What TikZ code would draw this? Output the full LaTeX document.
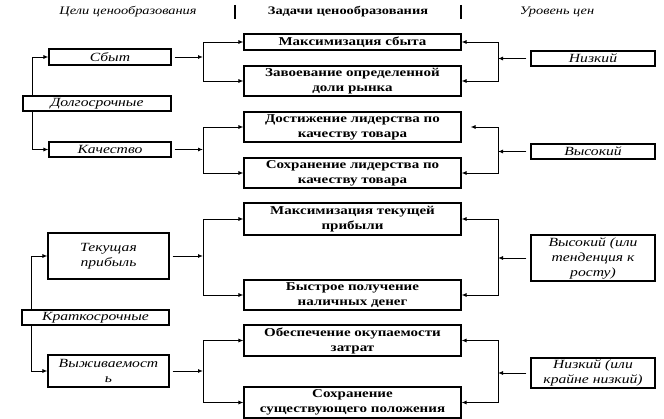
\documentclass[tikz,border=0pt]{standalone}
\usepackage{fontspec}
\setmainfont{Liberation Serif}[FakeStretch=1.25]
\usetikzlibrary{arrows.meta}
\tikzset{
  box/.style={draw, line width=1.1pt, inner sep=1pt, align=center,
    font=\fontsize{12}{15}\selectfont},
  bbox/.style={box, font=\fontsize{12}{15}\selectfont\bfseries},
  ibox/.style={box, font=\fontsize{12.5}{15}\selectfont\itshape},
  arr/.style={line width=0.9pt, -{Latex[length=5pt,width=4pt]}},
  hdr/.style={font=\fontsize{11.5}{14}\selectfont},
}
\begin{document}
\begin{tikzpicture}[x=1pt,y=-1pt]
\useasboundingbox (0,0) rectangle (664,419);
% headers
\node[hdr, font=\fontsize{11.5}{14}\selectfont\itshape] (h1) at (128,12) {Цели ценообразования};
\node[hdr, font=\fontsize{11.5}{14}\selectfont\bfseries] (h2) at (348,12) {Задачи ценообразования};
\node[hdr, font=\fontsize{11.5}{14}\selectfont\itshape] (h3) at (557,12) {Уровень цен};
\draw[line width=1.2pt] (235,5) -- (235,19);
\draw[line width=1.2pt] (461,5) -- (461,19);
% junction x positions
\coordinate (jl) at (203,0);
\coordinate (jr) at (498,0);
% left boxes
\node[ibox, minimum width=122, minimum height=16] (sbyt) at (110,57) {Сбыт};
\node[ibox, minimum width=148, minimum height=15] (dolg) at (97,103.5) {Долгосрочные};
\node[ibox, minimum width=122, minimum height=15] (kach) at (110,149.5) {Качество};
\node[ibox, minimum width=121, minimum height=46] (tek) at (108.5,256) {Текущая\\прибыль};
\node[ibox, minimum width=147, minimum height=15] (krat) at (95.5,317.5) {Краткосрочные};
\node[ibox, minimum width=121, minimum height=32] (vyzh) at (108.5,371) {Выживаемост\\ь};
% middle boxes
\node[bbox, minimum width=217, minimum height=16] (m1) at (352.5,42) {Максимизация сбыта};
\node[bbox, minimum width=217, minimum height=30] (m2) at (352.5,81) {Завоевание определенной\\доли рынка};
\node[bbox, minimum width=217, minimum height=30] (m3) at (352.5,127) {Достижение лидерства по\\качеству товара};
\node[bbox, minimum width=217, minimum height=30] (m4) at (352.5,173) {Сохранение лидерства по\\качеству товара};
\node[bbox, minimum width=217, minimum height=32] (m5) at (352.5,219) {Максимизация текущей\\прибыли};
\node[bbox, minimum width=217, minimum height=30] (m6) at (352.5,295) {Быстрое получение\\наличных денег};
\node[bbox, minimum width=217, minimum height=31] (m7) at (352.5,340.5) {Обеспечение окупаемости\\затрат};
\node[bbox, minimum width=217, minimum height=31] (m8) at (352.5,402.5) {Сохранение\\существующего положения};
% right boxes
\node[ibox, minimum width=124, minimum height=15] (r1) at (593,58.5) {Низкий};
\node[ibox, minimum width=124, minimum height=15] (r2) at (593,151.5) {Высокий};
\node[ibox, minimum width=124, minimum height=46] (r3) at (593,258) {Высокий (или\\тенденция к\\росту)};
\node[ibox, minimum width=124, minimum height=30] (r4) at (593,373) {Низкий (или\\крайне низкий)};
% left trunks
\draw[arr] ([xshift=10pt]dolg.north west) |- (sbyt.west);
\draw[arr] ([xshift=10pt]dolg.south west) |- (kach.west);
\draw[arr] ([xshift=10pt]krat.north west) |- (tek.west);
\draw[arr] ([xshift=10pt]krat.south west) |- (vyzh.west);
% left goals to tasks
\draw[arr, shorten <=3pt] (sbyt.east) -- (sbyt.east -| jl);
\draw[arr] (sbyt.east -| jl) |- (m1.west);
\draw[arr] (sbyt.east -| jl) |- (m2.west);
\draw[arr, shorten <=3pt] (kach.east) -- (kach.east -| jl);
\draw[arr] (kach.east -| jl) |- (m3.west);
\draw[arr] (kach.east -| jl) |- (m4.west);
\draw[arr, shorten <=3pt] (tek.east) -- (tek.east -| jl);
\draw[arr] (tek.east -| jl) |- (m5.west);
\draw[arr] (tek.east -| jl) |- (m6.west);
\draw[arr, shorten <=3pt] (vyzh.east) -- (vyzh.east -| jl);
\draw[arr] (vyzh.east -| jl) |- (m7.west);
\draw[arr] (vyzh.east -| jl) |- (m8.west);
% right price levels to tasks
\draw[arr, shorten <=4pt] (r1.west) -- (r1.west -| jr);
\draw[arr] (r1.west -| jr) |- (m1.east);
\draw[arr] (r1.west -| jr) |- (m2.east);
\draw[arr, shorten <=4pt] (r2.west) -- (r2.west -| jr);
\draw[arr, shorten >=9pt] (r2.west -| jr) |- (m3.east);
\draw[arr] (r2.west -| jr) |- (m4.east);
\draw[arr, shorten <=4pt] (r3.west) -- (r3.west -| jr);
\draw[arr] (r3.west -| jr) |- (m5.east);
\draw[arr] (r3.west -| jr) |- (m6.east);
\draw[arr, shorten <=4pt] (r4.west) -- (r4.west -| jr);
\draw[arr] (r4.west -| jr) |- (m7.east);
\draw[arr] (r4.west -| jr) |- (m8.east);
\end{tikzpicture}
\end{document}
